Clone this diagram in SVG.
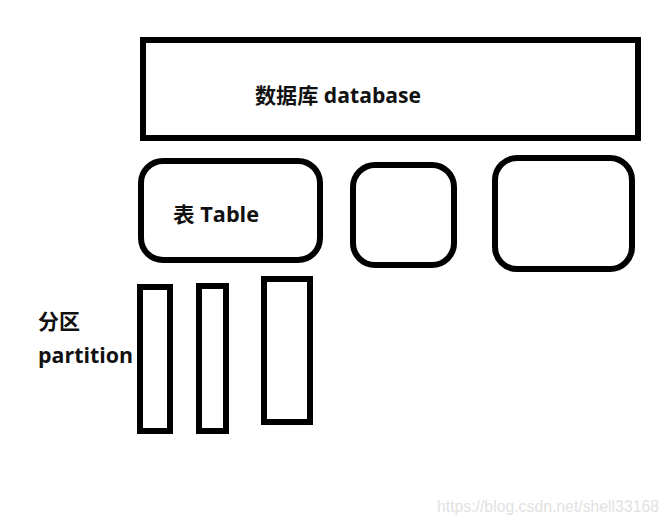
<svg xmlns="http://www.w3.org/2000/svg" width="668" height="524" viewBox="0 0 668 524">
<style>
.box{fill:none;stroke:#000;stroke-width:6}
.lbl{font-family:"Open Sans","Noto Sans CJK SC",sans-serif;font-weight:bold;font-size:21px;fill:#111}
.wm{font-family:"Liberation Sans",Arial,sans-serif;font-size:16px;fill:#e2e2e2}
</style>
<rect width="668" height="524" fill="#fff"/>
<g id="database">
<rect class="box" x="143" y="40" width="495" height="98"/>
<text class="lbl" x="255" y="103" textLength="166" lengthAdjust="spacingAndGlyphs">数据库 database</text>
</g>
<g id="table">
<rect class="box" x="141" y="161" width="179" height="99" rx="22"/>
<text class="lbl" x="173" y="222" textLength="86" lengthAdjust="spacingAndGlyphs">表 Table</text>
</g>
<g id="table2">
<rect class="box" x="353" y="165" width="101" height="100" rx="22"/>
</g>
<g id="table3">
<rect class="box" x="495" y="158" width="137" height="111" rx="22"/>
</g>
<g id="partition-label">
<text class="lbl" x="38" y="329" textLength="42" lengthAdjust="spacingAndGlyphs">分区</text>
<text class="lbl" x="38" y="363" textLength="95" lengthAdjust="spacingAndGlyphs">partition</text>
</g>
<g id="partition1"><rect class="box" x="140" y="287" width="30" height="144"/></g>
<g id="partition2"><rect class="box" x="199" y="286" width="27" height="145"/></g>
<g id="partition3"><rect class="box" x="264" y="279" width="46" height="143"/></g>
<g id="connectors"></g>
<text class="wm" x="437" y="512" textLength="222" lengthAdjust="spacingAndGlyphs">https://blog.csdn.net/shell33168</text>
</svg>
